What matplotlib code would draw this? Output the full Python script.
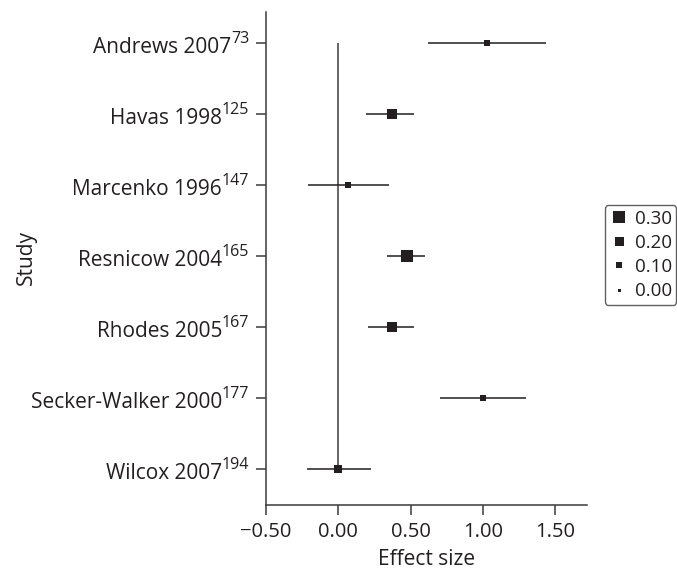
import matplotlib
matplotlib.use("Agg")
import matplotlib.pyplot as plt
from matplotlib.lines import Line2D

# forest plot of effect sizes per study
studies = ["Andrews 2007", "Havas 1998", "Marcenko 1996", "Resnicow 2004",
           "Rhodes 2005", "Secker-Walker 2000", "Wilcox 2007"]
refs = ["73", "125", "147", "165", "167", "177", "194"]
effect = [1.03, 0.37, 0.07, 0.475, 0.37, 1.00, 0.00]
ci_low = [0.62, 0.19, -0.21, 0.34, 0.205, 0.705, -0.22]
ci_high = [1.44, 0.52, 0.35, 0.60, 0.52, 1.30, 0.225]
weight = [0.07, 0.23, 0.07, 0.33, 0.23, 0.07, 0.17]
legend_weights = [0.30, 0.20, 0.10, 0.00]

plt.rcParams['font.family'] = ['Open Sans', 'DejaVu Sans']

ink = "#231f20"
axcol = "#3a3a3a"
fs = 15


def marker_pts(w):
    # square side grows linearly with the weight (pixels at 100 dpi)
    return (3 + 30 * w) * 0.72


fig = plt.figure(figsize=(6.77, 5.69), dpi=100)
ax = fig.add_axes([0.393, 0.1125, 0.474, 0.8665])

n = len(studies)
ypos = list(range(n, 0, -1))

ax.vlines(0, 1, n, color=axcol, lw=1.1, zorder=1)
for i in range(n):
    ax.hlines(ypos[i], ci_low[i], ci_high[i], color=ink, lw=1.1, zorder=2)
    ax.plot(effect[i], ypos[i], marker="s", ms=marker_pts(weight[i]),
            color=ink, mew=0, ls="none", zorder=3)

ax.set_xlim(-0.5, 1.72)
ax.set_ylim(0.49, 7.44)
ax.set_xticks([-0.5, 0, 0.5, 1.0, 1.5])
ax.set_xticklabels(["\u22120.50", "0.00", "0.50", "1.00", "1.50"])
ax.set_yticks(ypos)
ax.set_yticklabels([])

for side in ["top", "right"]:
    ax.spines[side].set_visible(False)
for side in ["left", "bottom"]:
    ax.spines[side].set_color(axcol)
    ax.spines[side].set_linewidth(1.1)
ax.tick_params(axis="both", colors=axcol, labelcolor=ink, labelsize=14.5,
               length=7, width=1.1, direction="out")
ax.tick_params(axis="x", pad=5)

# study labels with superscript reference numbers, drawn by hand
pad = 12
sups = []
for y, r in zip(ypos, refs):
    t = ax.annotate(r, xy=(0, y), xycoords=("axes fraction", "data"),
                    xytext=(-pad, 0), textcoords="offset points",
                    ha="right", va="baseline", fontsize=11.5, color=ink)
    sups.append(t)
fig.canvas.draw()
renderer = fig.canvas.get_renderer()
for y, s, t in zip(ypos, studies, sups):
    w_pts = t.get_window_extent(renderer).width * 72 / fig.dpi
    ax.annotate(s, xy=(0, y), xycoords=("axes fraction", "data"),
                xytext=(-pad - w_pts, -7), textcoords="offset points",
                ha="right", va="baseline", fontsize=fs, color=ink)

ax.set_xlabel("Effect size", fontsize=fs, color=ink, labelpad=5)
fig.text(26 / 677, 0.548, "Study", rotation=90, ha="center", va="center",
         fontsize=fs, color=ink)

handles = [Line2D([], [], marker="s", ls="none", color=ink, mew=0,
                  ms=marker_pts(w)) for w in legend_weights]
leg = fig.legend(handles, [f"{w:.2f}" for w in legend_weights],
                 loc="upper left", bbox_to_anchor=(0.893, 0.640),
                 bbox_transform=fig.transFigure, borderaxespad=0,
                 fontsize=13.5, frameon=True, fancybox=True,
                 handlelength=1.0, handletextpad=0.35, labelspacing=0.33,
                 borderpad=0.25, labelcolor=ink)
leg.get_frame().set_edgecolor(axcol)
leg.get_frame().set_linewidth(1.0)

fig.savefig("out.png", dpi=100)
